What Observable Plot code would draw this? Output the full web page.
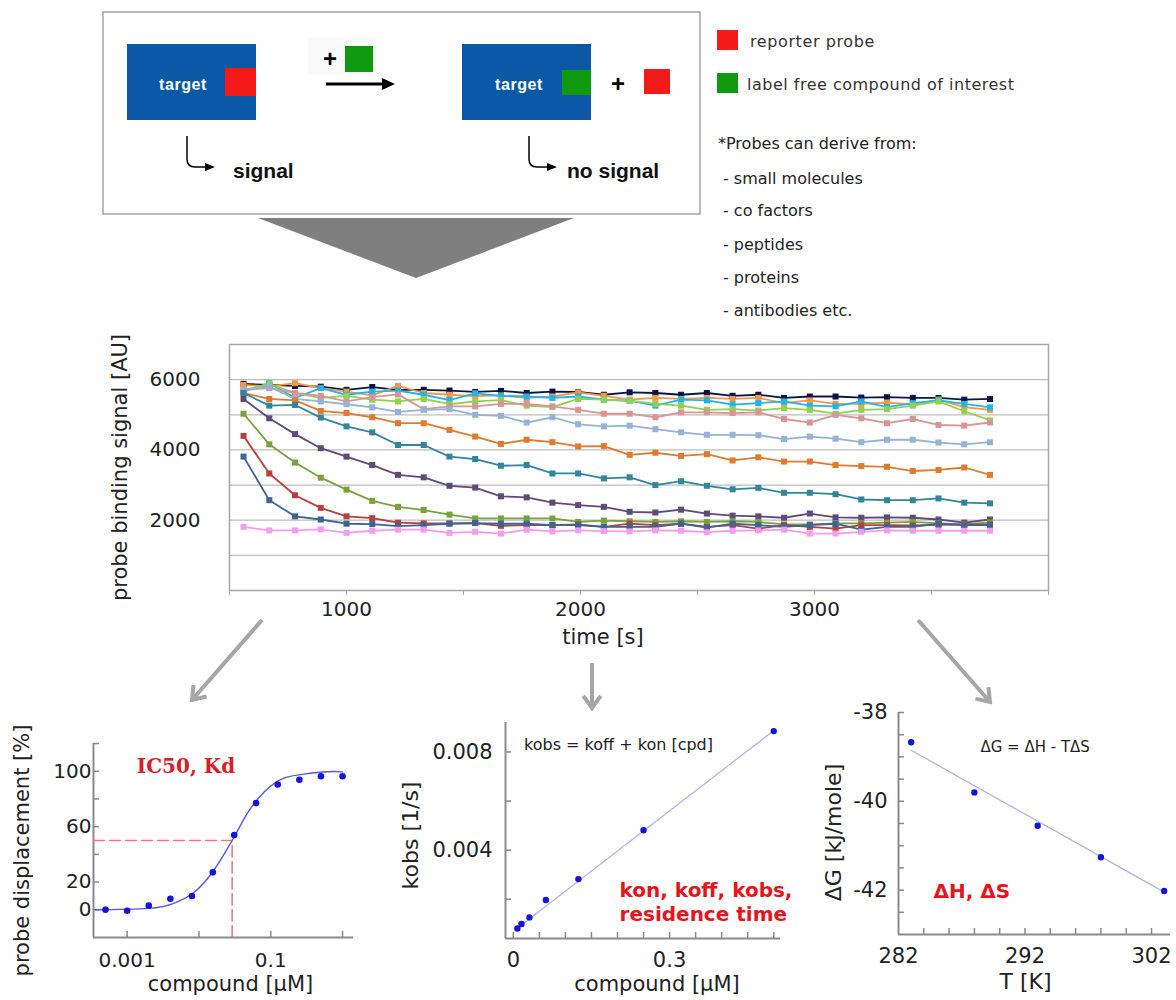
<!DOCTYPE html>
<html><head><meta charset="utf-8">
<script src="https://cdn.jsdelivr.net/npm/d3@7"></script>
<script src="https://cdn.jsdelivr.net/npm/@observablehq/plot@0.6"></script>
<style>
html,body{margin:0;padding:0;background:#fff;}
#page{position:relative;width:1176px;height:1000px;overflow:hidden;background:#fff;font-family:"DejaVu Sans",Verdana,sans-serif;}
.chart{position:absolute;}
#deco{position:absolute;left:0;top:0;pointer-events:none;}
</style></head>
<body><div id="page">
<div id="main" class="chart" style="left:0;top:320px"></div>
<div id="ic50" class="chart" style="left:0;top:700px"></div>
<div id="kin" class="chart" style="left:400px;top:700px"></div>
<div id="thermo" class="chart" style="left:780px;top:660px"></div>
<svg id="deco" width="1176" height="1000" xmlns="http://www.w3.org/2000/svg">
  <rect x="103" y="12" width="597" height="202" fill="none" stroke="#a3a3a3" stroke-width="1.5"/>
  <rect x="127" y="44" width="129" height="76" fill="#0b58a6"/>
  <rect x="225" y="68" width="31" height="28" fill="#f41a1a"/>
  <text x="183" y="84" fill="#fff" font-family="Liberation Sans, Arial, sans-serif" font-weight="bold" font-size="16" text-anchor="middle" dominant-baseline="central" letter-spacing="0.6">target</text>
  <rect x="308" y="37" width="68" height="38" fill="#fafafa"/>
  <text x="330" y="58" font-family="Liberation Sans, Arial, sans-serif" font-weight="bold" font-size="24" text-anchor="middle" dominant-baseline="central">+</text>
  <rect x="345" y="46" width="28" height="26" fill="#0e990e"/>
  <line x1="326" y1="84" x2="385" y2="84" stroke="#000" stroke-width="3"/>
  <polygon points="382,78 395,84 382,90" fill="#000"/>
  <rect x="462" y="44" width="129" height="76" fill="#0b58a6"/>
  <rect x="562" y="70" width="29" height="25" fill="#0e990e"/>
  <text x="519" y="84" fill="#fff" font-family="Liberation Sans, Arial, sans-serif" font-weight="bold" font-size="16" text-anchor="middle" dominant-baseline="central" letter-spacing="0.6">target</text>
  <text x="618" y="83" font-family="Liberation Sans, Arial, sans-serif" font-weight="bold" font-size="24" text-anchor="middle" dominant-baseline="central">+</text>
  <rect x="644" y="69" width="26" height="25" fill="#f41a1a"/>
  <path d="M187,136 L187,159 Q187,167 195,167 L207,167" fill="none" stroke="#000" stroke-width="1.5"/>
  <polygon points="205,163 215,167 205,171" fill="#000"/>
  <path d="M529,136 L529,159 Q529,167 537,167 L549,167" fill="none" stroke="#000" stroke-width="1.5"/>
  <polygon points="547,163 557,167 547,171" fill="#000"/>
  <text x="233" y="170" font-family="Liberation Sans, Arial, sans-serif" font-weight="bold" font-size="21" dominant-baseline="central" fill="#111">signal</text>
  <text x="567" y="170" font-family="Liberation Sans, Arial, sans-serif" font-weight="bold" font-size="21" dominant-baseline="central" fill="#111">no signal</text>
  <rect x="717" y="30" width="21" height="20" fill="#f41a1a"/>
  <text x="750" y="41" font-size="16" letter-spacing="0.6" dominant-baseline="central" fill="#333" font-family="DejaVu Sans, sans-serif">reporter probe</text>
  <rect x="717" y="73" width="21" height="20" fill="#0e990e"/>
  <text x="747" y="84" font-size="16" letter-spacing="0.5" dominant-baseline="central" fill="#333" font-family="DejaVu Sans, sans-serif">label free compound of interest</text>
  <g font-size="16" fill="#222" font-family="DejaVu Sans, sans-serif" dominant-baseline="central">
    <text x="718" y="143">*Probes can derive from:</text>
    <text x="723" y="178">- small molecules</text>
    <text x="723" y="210">- co factors</text>
    <text x="723" y="244">- peptides</text>
    <text x="723" y="277">- proteins</text>
    <text x="723" y="310">- antibodies etc.</text>
  </g>
  <polygon points="258,218 574,218 416,278" fill="#7f7f7f"/>
  <g id="arrows" fill="none" stroke="#a6a6a6" stroke-width="4"></g>
</svg>
</div>
<script>
// ---------- main kinetic chart data ----------
const times = [560,670,780,890,1000,1110,1220,1330,1440,1550,1660,1770,1880,1990,2100,2210,2320,2430,2540,2650,2760,2870,2980,3090,3200,3310,3420,3530,3640,3750];
const s1  = [5880,5850,5820,5800,5710,5790,5710,5710,5690,5650,5680,5620,5660,5650,5570,5640,5620,5570,5620,5540,5570,5480,5520,5520,5490,5500,5480,5480,5430,5450];
const s2  = [5850,5810,5900,5760,5660,5550,5820,5620,5570,5530,5550,5480,5520,5640,5540,5430,5480,5450,5480,5450,5480,5330,5410,5310,5310,5350,5290,5430,5220,5140];
const s3  = [5660,5900,5480,5760,5570,5660,5690,5570,5420,5610,5540,5520,5480,5520,5430,5400,5260,5430,5410,5290,5330,5380,5260,5240,5380,5220,5330,5410,5310,5210];
const s4  = [5700,5880,5620,5480,5540,5430,5380,5450,5300,5380,5420,5260,5220,5450,5430,5400,5310,5260,5140,5160,5120,5190,5140,5030,5140,5160,5260,5380,5100,4840];
const s5  = [5710,5760,5620,5540,5380,5500,5580,5160,5240,5240,5310,5310,5240,5140,5030,5030,4930,5070,5070,5050,5070,4880,4780,5000,4900,4760,4880,4710,4690,4780];
const s6  = [5710,5800,5450,5380,5300,5210,5080,5140,5160,5000,4970,4780,4930,4730,4670,4690,4590,4500,4430,4430,4420,4310,4380,4320,4220,4290,4290,4210,4160,4220];
const s7  = [5620,5450,5410,5110,5050,4930,4760,4760,4570,4380,4170,4290,4220,4100,4110,3860,3920,3830,3880,3700,3790,3670,3670,3570,3540,3520,3400,3430,3500,3290];
const s8  = [5620,5260,5280,4920,4670,4500,4140,4140,3810,3740,3550,3570,3330,3330,3190,3220,3000,3110,2980,2880,2920,2780,2780,2740,2590,2570,2570,2620,2500,2480];
const s9  = [5450,4900,4450,4050,3810,3570,3290,3220,2980,2930,2680,2650,2500,2430,2380,2240,2220,2300,2190,2130,2110,2070,2190,2080,2070,2080,2070,2020,1930,2020];
const s10 = [5030,4160,3640,3210,2870,2550,2380,2290,2160,2050,2050,2050,2050,1950,1990,1970,1950,1970,1950,1970,1950,1880,1880,1910,1910,1930,1950,1910,1880,1940];
const s11 = [4400,3330,2710,2350,2110,2060,1930,1910,1910,1920,1840,1860,1860,1880,1810,1900,1860,1900,1810,1860,1760,1860,1810,1760,1860,1860,1850,1870,1880,1880];
const s12 = [3810,2570,2110,2020,1900,1890,1830,1860,1900,1920,1900,1900,1860,1860,1810,1810,1810,1900,1790,1900,1860,1810,1860,1900,1730,1810,1810,1900,1860,1860];
const s13 = [1810,1710,1710,1740,1640,1700,1730,1730,1640,1670,1620,1730,1680,1710,1690,1680,1710,1700,1660,1700,1710,1730,1620,1620,1670,1710,1700,1700,1700,1700];
const seriesNames = ["S1","S2","S3","S4","S5","S6","S7","S8","S9","S10","S11","S12","S13"];
const seriesValues = [s1,s2,s3,s4,s5,s6,s7,s8,s9,s10,s11,s12,s13];
const mainXTicks = [1000,2000,3000];
const mainXMinor = [500,1000,1500,2000,2500,3000,3500,4000];
const mainYTicks = [2000,4000,6000];
const mainGrid = [1000,2000,3000,4000,5000,6000];

// ---------- IC50 chart data ----------
const doseX = [0.0005,0.001,0.002,0.004,0.008,0.0156,0.031,0.0625,0.125,0.25,0.5,1];
const dispY = [0,-0.7,3,8,10,27,54,77,90.4,93.8,96.4,96.4];
const fitX = [0.00036,0.002,0.00464,0.00877,0.0149,0.029,0.0476,0.081,0.153,0.356,0.748,1.0];
const fitY = [0,1,5,13,26,50,70,85,95,98.5,99.8,99.5];
const ic50 = 0.029, halfY = 50;
const icXDomain = [0.00034, 1.42], icYDomain = [-20, 120];
const icYTicks = [0,20,40,60,80,100,120], icYLabels = [0,20,60,100];
const icXTicks = [0.001,0.01,0.1,1], icXLabels = [0.001,0.1];

// ---------- kinetics chart data ----------
const concX = [0.0078,0.0156,0.031,0.0625,0.125,0.25,0.5];
const kobsY = [0.00081,0.00099,0.00126,0.00197,0.00282,0.00481,0.00885];
const kobsFitX = [0.0032,0.5];
const kobsFitY = [0.00075,0.00887];
const kXDomain = [-0.015, 0.513], kYDomain = [0.0004, 0.0092];
const kYTicks = [0.002,0.004,0.006,0.008], kYLabels = [0.004,0.008];
const kXTicks = [0,0.05,0.1,0.15,0.2,0.25,0.3,0.35,0.4,0.45,0.5], kXLabels = [0,0.3];

// ---------- thermodynamics chart data ----------
const tempK = [283,288,293,298,303];
const dG = [-38.67,-39.80,-40.55,-41.26,-42.02];
const dGFitX = [283,302.9];
const dGFitY = [-38.85,-42.03];
const tXDomain = [282, 303.5], tYDomain = [-43, -38];
const tYTicks = [-42.5,-42,-41.5,-41,-40.5,-40,-39.5,-39,-38.5,-38], tYLabels = [-38,-40,-42];
const tXTicks = [284,286,288,290,292,294,296,298,300,302], tXLabels = [282,292,302];

// ---------- styles ----------
const palette = ["#0c1446","#f79646","#1fb4ec","#92d050","#d99594","#95b3d7","#e07a2e","#31859c","#604a7b","#77a33c","#b8403c","#3b6595","#f49cf0"];
const FONT = "DejaVu Sans, Verdana, sans-serif";
const axisGray = "#8a8a8a";
const dotBlue = "#1414d8";
const fmt = d => String(d);

// ---------- main chart ----------
const rows = [];
seriesValues.forEach((vals, k) => vals.forEach((v, i) => rows.push({t: times[i], v, s: seriesNames[k]})));

document.getElementById("main").append(Plot.plot({
  width: 1176, height: 340,
  marginLeft: 229, marginRight: 128, marginTop: 24, marginBottom: 70,
  style: {fontFamily: FONT, fontSize: "20px", color: "#222", background: "transparent"},
  x: {domain: [500, 4000], label: null},
  y: {domain: [0, 7000], label: null},
  color: {domain: seriesNames, range: palette},
  marks: [
    Plot.gridY(mainGrid, {stroke: "#bdbdbd", strokeOpacity: 1, strokeWidth: 1.2}),
    Plot.frame({stroke: "#a6a6a6", strokeWidth: 1.5}),
    Plot.axisY(mainYTicks, {tickSize: 0, tickPadding: 29, tickFormat: fmt, fontSize: 20}),
    Plot.axisX(mainXTicks, {tickSize: 0, tickPadding: 11, tickFormat: fmt, fontSize: 20}),
    Plot.axisX(mainXMinor, {tickSize: 5, fill: "none", stroke: "#a6a6a6"}),
    Plot.line(rows, {x: "t", y: "v", z: "s", stroke: "s", strokeWidth: 1.8}),
    Plot.dot(rows, {x: "t", y: "v", fill: "s", symbol: "square", r: 3.4}),
    Plot.text(["probe binding signal [AU]"], {frameAnchor: "left", textAnchor: "middle", dx: -109, rotate: -90, fontSize: 21, fill: "#222"}),
    Plot.text(["time [s]"], {frameAnchor: "bottom", dx: -36, dy: 53, fontSize: 21, fill: "#222"})
  ]
}));

// ---------- IC50 chart ----------
const icPts = doseX.map((x, i) => ({x, y: dispY[i]}));
const icFit = fitX.map((x, i) => ({x, y: fitY[i]}));
const icGuide = [{x: icXDomain[0], y: halfY}, {x: ic50, y: halfY}, {x: ic50, y: icYDomain[0]}];
document.getElementById("ic50").append(Plot.plot({
  width: 380, height: 300,
  marginLeft: 93, marginRight: 27, marginTop: 43, marginBottom: 63,
  style: {fontFamily: FONT, fontSize: "20px", color: "#222", background: "transparent"},
  x: {type: "log", domain: icXDomain, label: null},
  y: {domain: icYDomain, label: null},
  marks: [
    Plot.ruleX([icXDomain[0]], {stroke: axisGray, strokeWidth: 2}),
    Plot.ruleY([icYDomain[0]], {stroke: axisGray, strokeWidth: 2}),
    Plot.axisY(icYTicks, {tickSize: 6, dx: 6, fill: "none", stroke: axisGray, strokeWidth: 1.5}),
    Plot.axisX(icXTicks, {tickSize: 6, dy: -6, fill: "none", stroke: axisGray, strokeWidth: 1.5}),
    Plot.axisY(icYLabels, {tickSize: 0, tickPadding: 2, tickFormat: fmt, fontSize: 20}),
    Plot.axisX(icXLabels, {tickSize: 0, tickPadding: 15, tickFormat: fmt, fontSize: 20}),
    Plot.line(icGuide, {x: "x", y: "y", stroke: "#e87b7b", strokeWidth: 1.6, strokeDasharray: "11,5"}),
    Plot.line(icFit, {x: "x", y: "y", curve: "monotone-x", stroke: "#5858dc", strokeWidth: 1.4}),
    Plot.dot(icPts, {x: "x", y: "y", fill: dotBlue, r: 3.3}),
    Plot.text(["IC50, Kd"], {x: 0.0066, y: 103.4, fontFamily: "DejaVu Serif, serif", fontWeight: "bold", fontSize: 20, fill: "#d81f26"}),
    Plot.text(["probe displacement [%]"], {frameAnchor: "left", textAnchor: "middle", dx: -71, dy: 10, rotate: -90, fontSize: 21, fill: "#222"}),
    Plot.text(["compound [µM]"], {frameAnchor: "bottom", dx: 7, dy: 53, fontSize: 21, fill: "#222"})
  ]
}));

// ---------- kinetics chart ----------
const kPts = concX.map((x, i) => ({x, y: kobsY[i]}));
const kFit = kobsFitX.map((x, i) => ({x, y: kobsFitY[i]}));
document.getElementById("kin").append(Plot.plot({
  width: 400, height: 300,
  marginLeft: 105, marginRight: 20, marginTop: 22, marginBottom: 62,
  style: {fontFamily: FONT, fontSize: "20px", color: "#222", background: "transparent", overflow: "visible"},
  x: {domain: kXDomain, label: null},
  y: {domain: kYDomain, label: null},
  marks: [
    Plot.ruleX([kXDomain[0]], {stroke: axisGray, strokeWidth: 2}),
    Plot.ruleY([kYDomain[0]], {stroke: axisGray, strokeWidth: 2}),
    Plot.axisY(kYTicks, {tickSize: 6, dx: 6, fill: "none", stroke: axisGray, strokeWidth: 1.5}),
    Plot.axisX(kXTicks, {tickSize: 6, dy: -6, fill: "none", stroke: axisGray, strokeWidth: 1.5}),
    Plot.axisY(kYLabels, {tickSize: 0, tickPadding: 13, tickFormat: fmt, fontSize: 21}),
    Plot.axisX(kXLabels, {tickSize: 0, tickPadding: 14, tickFormat: fmt, fontSize: 21}),
    Plot.line(kFit, {x: "x", y: "y", stroke: "#b3b3ec", strokeWidth: 1.3}),
    Plot.dot(kPts, {x: "x", y: "y", fill: dotBlue, r: 3.2}),
    Plot.text(["kobs = koff + kon [cpd]"], {x: 0.202, y: 0.00827, fontSize: 16, fill: "#222"}),
    Plot.text(["kon, koff, kobs,\nresidence time"], {x: 0.204, y: 0.00192, textAnchor: "start", lineHeight: 1.2, fontSize: 20, fontWeight: "bold", fill: "#e8141c"}),
    Plot.text(["kobs [1/s]"], {frameAnchor: "left", textAnchor: "middle", dx: -95, dy: 5, rotate: -90, fontSize: 22, fill: "#222"}),
    Plot.text(["compound [µM]"], {frameAnchor: "bottom", dx: 14, dy: 52, fontSize: 21, fill: "#222"})
  ]
}));

// ---------- thermodynamics chart ----------
const tPts = tempK.map((x, i) => ({x, y: dG[i]}));
const tFit = dGFitX.map((x, i) => ({x, y: dGFitY[i]}));
document.getElementById("thermo").append(Plot.plot({
  width: 396, height: 340,
  marginLeft: 118, marginRight: 6, marginTop: 52, marginBottom: 66,
  style: {fontFamily: FONT, fontSize: "21px", color: "#222", background: "transparent"},
  x: {domain: tXDomain, label: null},
  y: {domain: tYDomain, label: null},
  marks: [
    Plot.ruleX([tXDomain[0]], {stroke: axisGray, strokeWidth: 2}),
    Plot.ruleY([tYDomain[0]], {stroke: axisGray, strokeWidth: 2}),
    Plot.axisY(tYTicks, {tickSize: 6, dx: 6, fill: "none", stroke: axisGray, strokeWidth: 1.5}),
    Plot.axisX(tXTicks, {tickSize: 6, dy: -6, fill: "none", stroke: axisGray, strokeWidth: 1.5}),
    Plot.axisY(tYLabels, {tickSize: 0, tickPadding: 11, tickFormat: fmt, fontSize: 21}),
    Plot.axisX(tXLabels, {tickSize: 0, tickPadding: 14, tickFormat: fmt, fontSize: 21}),
    Plot.line(tFit, {x: "x", y: "y", stroke: "#b3b3ec", strokeWidth: 1.3}),
    Plot.dot(tPts, {x: "x", y: "y", fill: dotBlue, r: 3.2}),
    Plot.text(["ΔG = ΔH - TΔS"], {x: 292.8, y: -38.77, fontSize: 15, fill: "#222"}),
    Plot.text(["ΔH, ΔS"], {x: 287.8, y: -42.04, fontSize: 20, fontWeight: "bold", fill: "#e8141c"}),
    Plot.text(["ΔG [kJ/mole]"], {frameAnchor: "left", textAnchor: "middle", dx: -65, dy: 9, rotate: -90, fontSize: 22, fill: "#222"}),
    Plot.text(["T [K]"], {frameAnchor: "bottom", dx: -9, dy: 54, fontSize: 22, fill: "#222"})
  ]
}));

// ---------- gray flow arrows ----------
function arrowPath(x1, y1, x2, y2) {
  const a = Math.atan2(y2 - y1, x2 - x1), L = 15, s = 0.62;
  return `M${x1},${y1}L${x2},${y2}M${x2 - L * Math.cos(a - s)},${y2 - L * Math.sin(a - s)}L${x2},${y2}L${x2 - L * Math.cos(a + s)},${y2 - L * Math.sin(a + s)}`;
}
const arrowSpecs = [[262,620,192,700],[592,663,592,708],[918,620,990,702]];
const g = document.getElementById("arrows");
arrowSpecs.forEach(([a,b,c,d]) => {
  const p = document.createElementNS("http://www.w3.org/2000/svg", "path");
  p.setAttribute("d", arrowPath(a,b,c,d));
  g.append(p);
});
</script>
</body></html>
